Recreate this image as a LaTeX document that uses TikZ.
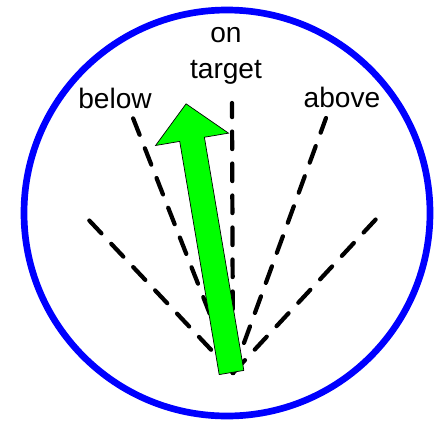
\documentclass[tikz,border=0pt]{standalone}
\usepackage{fontspec}
\setmainfont{Liberation Sans}
\usepackage{tikz}
\usetikzlibrary{positioning}

\begin{document}
\begin{tikzpicture}[font=\fontsize{16}{20}\selectfont,
    fanline/.style={black, line width=2.4pt, line cap=round, dash pattern=on 10pt off 8.2pt},
    lbl/.style={inner sep=0pt, anchor=base}]
  \useasboundingbox (-4.54,-4.14) rectangle (4.3,4.26);
  % outer circle
  \draw[blue, line width=3.8pt] (0,0) circle (4.06);
  % fan of dashed lines from a common pivot
  \coordinate (pivot) at (0.12,-3.2);
  \coordinate (farleft) at (-2.82,-0.08);
  \coordinate (left) at (-1.88,1.9);
  \coordinate (mid) at (0.1,2.2);
  \coordinate (right) at (1.98,1.9);
  \coordinate (farright) at (3.02,-0.08);
  \foreach \e in {farleft, left, mid, right, farright} {
    \draw[fanline] (pivot) -- (\e);
  }
  % green arrow, tilted slightly left
  \begin{scope}[shift={(0.09,-3.19)}, rotate=9.6]
    \filldraw[fill=green, draw=black, line width=0.4pt]
      (-0.25,0) -- (0.25,0) -- (0.25,4.73) -- (0.74,4.73) -- (0,5.45)
      -- (-0.74,4.73) -- (-0.25,4.73) -- cycle;
  \end{scope}
  % labels
  \node[lbl] (ontarget) at (-0.02,3.4) {on};
  \node[lbl] (target) at (-0.02,2.7) {target};
  \node[lbl] (below) at (-2.24,2.1) {below};
  \node[lbl] (above) at (2.3,2.12) {above};
\end{tikzpicture}
\end{document}
